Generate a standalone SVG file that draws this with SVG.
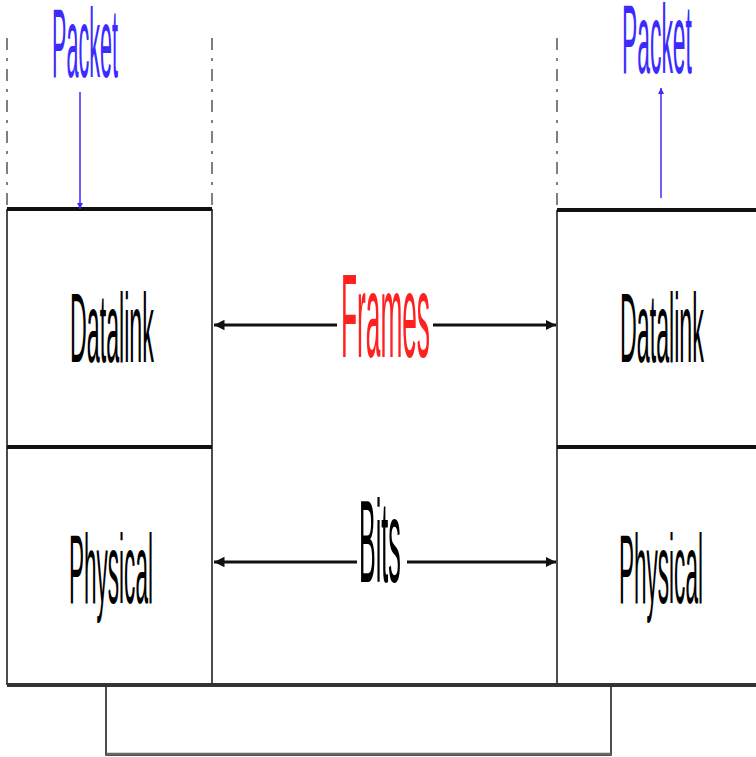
<svg xmlns="http://www.w3.org/2000/svg" width="756" height="757" viewBox="0 0 756 757">
<style>
.lbl{font-family:"Liberation Sans",Arial,sans-serif;font-size:98px;fill:#000}
.blue{fill:#3b2bff}
.red{fill:#ff2020}
.thick{stroke:#111;stroke-width:4;fill:none}
.thin{stroke:#111;stroke-width:1.5;fill:none}
.dash{stroke:#555;stroke-width:1.5;stroke-dasharray:12,8,3,8;fill:none}
.conn{stroke:#111;stroke-width:3;fill:none}
.bconn{stroke:#3b2bff;stroke-width:1.5;fill:none}
</style>
<defs>
<marker id="ah" viewBox="0 0 10 10" refX="10" refY="5" markerWidth="3.5" markerHeight="3.5" orient="auto">
<path d="M0,0 L10,5 L0,10 z" fill="#111"/>
</marker>
<marker id="bh" viewBox="0 0 10 10" refX="10" refY="5" markerWidth="6" markerHeight="4" orient="auto">
<path d="M0,0 L10,5 L0,10 z" fill="#3b2bff"/>
</marker>
</defs>
<rect width="756" height="757" fill="#fff"/>
<g id="guides">
<line class="dash" x1="7" y1="38" x2="7" y2="205"/>
<line class="dash" x1="212" y1="38" x2="212" y2="205"/>
<line class="dash" x1="557" y1="38" x2="557" y2="205"/>
</g>
<g id="medium">
<rect x="106" y="685" width="505" height="70" class="thin"/>
<line x1="106" y1="754" x2="611" y2="754" style="stroke:#666;stroke-width:2.5"/>
</g>
<g id="left-datalink">
<line class="thick" x1="7" y1="209" x2="212" y2="209"/>
<line class="thin" x1="7" y1="209" x2="7" y2="447"/>
<line class="thin" x1="212" y1="209" x2="212" y2="447"/>
<text class="lbl" transform="translate(70,362) scale(0.237,1)">Datalink</text>
</g>
<g id="left-physical">
<line class="thick" x1="7" y1="447" x2="212" y2="447"/>
<line class="thin" x1="7" y1="447" x2="7" y2="685"/>
<line class="thin" x1="212" y1="447" x2="212" y2="685"/>
<line class="thick" x1="7" y1="685" x2="212" y2="685"/>
<text class="lbl" transform="translate(69,603) scale(0.23,1)">Physical</text>
</g>
<g id="right-datalink">
<line class="thick" x1="557" y1="210" x2="756" y2="210"/>
<line class="thin" x1="557" y1="210" x2="557" y2="447"/>
<text class="lbl" transform="translate(620,362) scale(0.237,1)">Datalink</text>
</g>
<g id="right-physical">
<line class="thick" x1="557" y1="447" x2="756" y2="447"/>
<line class="thin" x1="557" y1="447" x2="557" y2="685"/>
<line class="thick" x1="557" y1="685" x2="756" y2="685"/>
<text class="lbl" transform="translate(619,603) scale(0.23,1)">Physical</text>
</g>
<g id="bus">
<line x1="7" y1="685" x2="756" y2="685" style="stroke:#333;stroke-width:4"/>
</g>
<g id="packet-left">
<text class="lbl blue" style="font-size:99px" transform="translate(52,77) scale(0.218,1)">Packet</text>
</g>
<g id="packet-right">
<text class="lbl blue" style="font-size:99px" transform="translate(622,73) scale(0.231,1)">Packet</text>
</g>
<g id="frames-label">
<text class="lbl red" style="font-size:118px" transform="translate(341,357) scale(0.2225,1)">Frames</text>
</g>
<g id="bits-label">
<text class="lbl" style="font-size:117px" transform="translate(359,582) scale(0.215,1)">Bits</text>
</g>
<g id="connectors">
<line class="conn" x1="337" y1="325" x2="214" y2="325" marker-end="url(#ah)"/>
<line class="conn" x1="433" y1="325" x2="556" y2="325" marker-end="url(#ah)"/>
<line class="conn" x1="357" y1="562" x2="214" y2="562" marker-end="url(#ah)"/>
<line class="conn" x1="407" y1="562" x2="556" y2="562" marker-end="url(#ah)"/>
<line class="bconn" x1="80" y1="92" x2="80" y2="209" marker-end="url(#bh)"/>
<line class="bconn" x1="661" y1="198" x2="661" y2="88" marker-end="url(#bh)"/>
</g>
</svg>
